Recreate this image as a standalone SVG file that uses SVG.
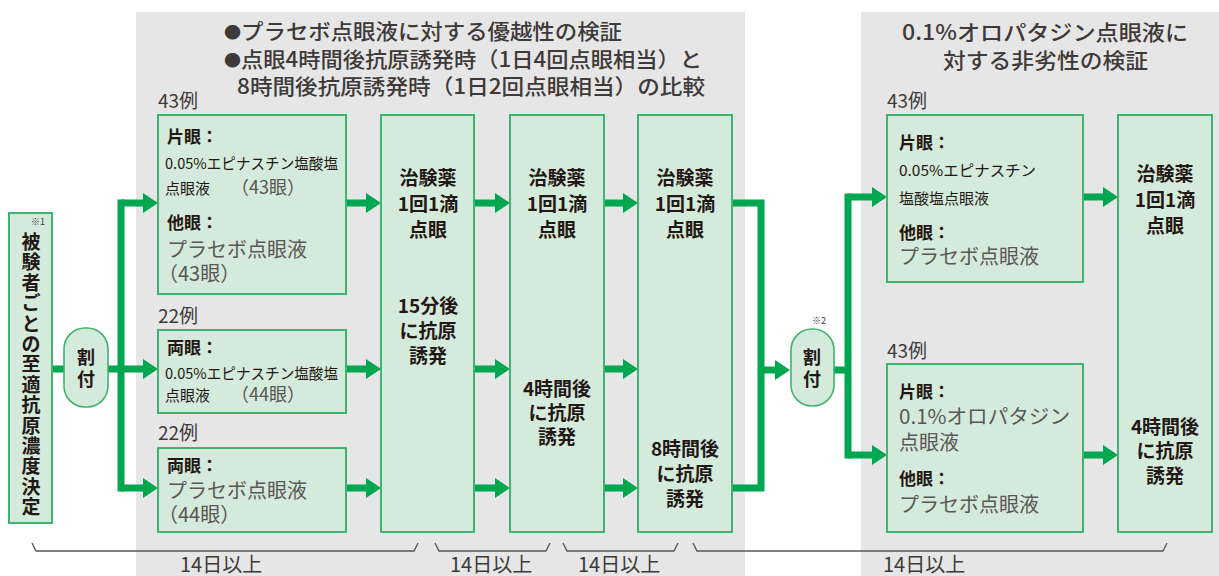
<svg xmlns="http://www.w3.org/2000/svg" width="1219" height="576" viewBox="0 0 1219 576">
<defs>
<style>
text{font-family:"Noto Sans CJK JP","Noto Sans",sans-serif;}
.panel{fill:#e6e6e6}
.box{fill:#d4eada;stroke:#3fb370;stroke-width:2}
.pill{fill:#d4eada;stroke:#3fb370;stroke-width:1.6}
.conn{stroke:#00a650;stroke-width:7;fill:none;stroke-linejoin:miter}
.inner{stroke:#00a650;stroke-width:5;fill:none}
.brace{stroke:#555;stroke-width:1.3;fill:none}
.hd{font-size:21px;fill:#3e3a39;font-weight:500}
.dot{font-size:16px}
.lb{font-size:19px;fill:#3e3a39}
.b{font-size:17px;font-weight:bold;fill:#231815}
.s{font-size:15px;fill:#231815}
.g{font-size:20px;fill:#595757}
.g18{font-size:18px;fill:#595757}
.c{font-size:19px;font-weight:bold;fill:#231815;text-anchor:middle}
.v{font-size:19px;font-weight:bold;fill:#231815;text-anchor:middle}
.note{font-size:9px;fill:#3e3a39}
</style>
<marker id="ah" markerUnits="userSpaceOnUse" markerWidth="15" markerHeight="20" refX="0" refY="10" orient="auto" viewBox="0 0 15 20">
<path d="M0,0 L15,10 L0,20 z" fill="#00a650"/>
</marker>
<marker id="ah2" markerUnits="userSpaceOnUse" markerWidth="14" markerHeight="20" refX="0" refY="10" orient="auto" viewBox="0 0 14 20">
<path d="M0,0 L14,10 L0,20 z" fill="#00a650"/>
</marker>
</defs>

<g id="panels">
<rect class="panel" x="136" y="12" width="609" height="564"/>
<rect class="panel" x="861" y="12" width="358" height="564"/>
</g>

<g id="headers">
<text class="hd" x="224" y="39" textLength="398" lengthAdjust="spacingAndGlyphs"><tspan class="dot" dy="-1">●</tspan><tspan dy="1">プラセボ点眼液に対する優越性の検証</tspan></text>
<text class="hd" x="224" y="67" textLength="478" lengthAdjust="spacingAndGlyphs"><tspan class="dot" dy="-1">●</tspan><tspan dy="1">点眼4時間後抗原誘発時（1日4回点眼相当）と</tspan></text>
<text class="hd" x="237" y="94" textLength="468" lengthAdjust="spacingAndGlyphs">8時間後抗原誘発時（1日2回点眼相当）の比較</text>
<text class="hd" x="902" y="40" textLength="286" lengthAdjust="spacingAndGlyphs">0.1%オロパタジン点眼液に</text>
<text class="hd" x="943" y="68" textLength="205" lengthAdjust="spacingAndGlyphs">対する非劣性の検証</text>
</g>

<g id="connectors">
<path class="conn" d="M52,369 H64"/>
<path class="conn" d="M108,369 H143" marker-end="url(#ah)"/>
<path class="conn" d="M121,203 V488" stroke-linecap="square"/>
<path class="conn" d="M121,203 H143" marker-end="url(#ah)"/>
<path class="conn" d="M121,488 H143" marker-end="url(#ah)"/>
<path class="conn" d="M346,203 H366" marker-end="url(#ah)"/>
<path class="conn" d="M346,369 H366" marker-end="url(#ah)"/>
<path class="conn" d="M346,488 H366" marker-end="url(#ah)"/>
<path class="conn" d="M474,203 H495" marker-end="url(#ah)"/>
<path class="conn" d="M474,369 H495" marker-end="url(#ah)"/>
<path class="conn" d="M474,488 H495" marker-end="url(#ah)"/>
<path class="conn" d="M604,203 H623" marker-end="url(#ah)"/>
<path class="conn" d="M604,369 H623" marker-end="url(#ah)"/>
<path class="conn" d="M604,488 H623" marker-end="url(#ah)"/>
<path class="conn" d="M732,203 H761 V488 H732"/>
<path class="conn" d="M761,370 H775" marker-end="url(#ah)"/>
<path class="conn" d="M834,370 H848"/>
<path class="conn" d="M848,197 V455" stroke-linecap="square"/>
<path class="conn" d="M848,197 H872" marker-end="url(#ah)"/>
<path class="conn" d="M848,455 H872" marker-end="url(#ah)"/>
<path class="conn" d="M1083,197 H1103" marker-end="url(#ah)"/>
<path class="conn" d="M1083,455 H1103" marker-end="url(#ah)"/>
<path class="inner" d="M428,247 V268" marker-end="url(#ah2)"/>
<path class="inner" d="M557,247 V348" marker-end="url(#ah2)"/>
<path class="inner" d="M685,247 V411" marker-end="url(#ah2)"/>
<path class="inner" d="M1165,267 V351" marker-end="url(#ah2)"/>
</g>

<g id="node-subject">
<rect class="box" x="9" y="213" width="43" height="310"/>
<text class="note" x="31" y="225">※1</text>
<text class="v" x="31 31 31 31 31 31 31 31 31 31 31 31 31 31" y="249 269.4 289.8 310.2 330.6 351 371.4 391.8 412.2 432.6 453 473.4 493.8 514.2">被験者ごとの至適抗原濃度決定</text>
</g>

<g id="node-assign1">
<rect class="pill" x="64" y="328" width="44" height="79" rx="21" ry="21"/>
<text class="v" x="86 86" y="364 386" style="font-size:18px">割付</text>
</g>

<g id="node-groupA">
<text class="lb" x="158" y="108">43例</text>
<rect class="box" x="158" y="115" width="188" height="179"/>
<text class="b" x="167" y="143">片眼：</text>
<text class="s" x="165" y="169" textLength="173" lengthAdjust="spacingAndGlyphs">0.05%エピナスチン塩酸塩</text>
<text class="s" x="165" y="194">点眼液</text>
<text class="g18" x="231" y="194">（43眼）</text>
<text class="b" x="167" y="229">他眼：</text>
<text class="g" x="167" y="257">プラセボ点眼液</text>
<text class="g" x="158" y="281">（43眼）</text>
</g>

<g id="node-groupB">
<text class="lb" x="158" y="323">22例</text>
<rect class="box" x="158" y="330" width="188" height="83"/>
<text class="b" x="167" y="354">両眼：</text>
<text class="s" x="165" y="379" textLength="173" lengthAdjust="spacingAndGlyphs">0.05%エピナスチン塩酸塩</text>
<text class="s" x="165" y="401">点眼液</text>
<text class="g18" x="231" y="401">（44眼）</text>
</g>

<g id="node-groupC">
<text class="lb" x="158" y="440">22例</text>
<rect class="box" x="158" y="448" width="188" height="84"/>
<text class="b" x="167" y="472">両眼：</text>
<text class="g" x="167" y="498">プラセボ点眼液</text>
<text class="g" x="158" y="522">（44眼）</text>
</g>

<g id="node-step15min">
<rect class="box" x="381" y="115" width="93" height="417"/>
<text class="c" x="428" y="185">治験薬</text>
<text class="c" x="428" y="211">1回1滴</text>
<text class="c" x="428" y="237">点眼</text>
<text class="c" x="428" y="313">15分後</text>
<text class="c" x="428" y="338">に抗原</text>
<text class="c" x="428" y="363">誘発</text>
</g>

<g id="node-step4h">
<rect class="box" x="510" y="115" width="94" height="417"/>
<text class="c" x="557" y="185">治験薬</text>
<text class="c" x="557" y="211">1回1滴</text>
<text class="c" x="557" y="237">点眼</text>
<text class="c" x="557" y="396">4時間後</text>
<text class="c" x="557" y="420">に抗原</text>
<text class="c" x="557" y="444">誘発</text>
</g>

<g id="node-step8h">
<rect class="box" x="638" y="115" width="94" height="417"/>
<text class="c" x="685" y="185">治験薬</text>
<text class="c" x="685" y="211">1回1滴</text>
<text class="c" x="685" y="237">点眼</text>
<text class="c" x="685" y="456">8時間後</text>
<text class="c" x="685" y="481">に抗原</text>
<text class="c" x="685" y="506">誘発</text>
</g>

<g id="node-assign2">
<text class="note" x="812" y="324">※2</text>
<rect class="pill" x="791" y="329" width="43" height="77" rx="21" ry="21"/>
<text class="v" x="812 812" y="364 386" style="font-size:18px">割付</text>
</g>

<g id="node-groupD">
<text class="lb" x="887" y="108">43例</text>
<rect class="box" x="887" y="115" width="196" height="167"/>
<text class="b" x="899" y="149">片眼：</text>
<text class="s" x="899" y="176" textLength="137" lengthAdjust="spacingAndGlyphs">0.05%エピナスチン</text>
<text class="s" x="899" y="204">塩酸塩点眼液</text>
<text class="b" x="899" y="239">他眼：</text>
<text class="g" x="899" y="264">プラセボ点眼液</text>
</g>

<g id="node-groupE">
<text class="lb" x="887" y="358">43例</text>
<rect class="box" x="887" y="364" width="196" height="168"/>
<text class="b" x="899" y="398">片眼：</text>
<text class="g" x="899" y="424" textLength="171" lengthAdjust="spacingAndGlyphs">0.1%オロパタジン</text>
<text class="g" x="899" y="450">点眼液</text>
<text class="b" x="899" y="485">他眼：</text>
<text class="g" x="899" y="512">プラセボ点眼液</text>
</g>

<g id="node-stepFinal">
<rect class="box" x="1118" y="115" width="94" height="417"/>
<text class="c" x="1165" y="181">治験薬</text>
<text class="c" x="1165" y="207">1回1滴</text>
<text class="c" x="1165" y="233">点眼</text>
<text class="c" x="1165" y="434">4時間後</text>
<text class="c" x="1165" y="458">に抗原</text>
<text class="c" x="1165" y="483">誘発</text>
</g>

<g id="periods">
<path class="brace" d="M32,543 L36,551 H414 L418,543"/>
<path class="brace" d="M435,543 L439,551 H546 L550,543"/>
<path class="brace" d="M563,543 L567,551 H674 L678,543"/>
<path class="brace" d="M693,543 L697,551 H1163 L1167,543"/>
<text class="lb" x="180" y="572" style="font-size:20px">14日以上</text>
<text class="lb" x="450" y="572" style="font-size:20px">14日以上</text>
<text class="lb" x="578" y="572" style="font-size:20px">14日以上</text>
<text class="lb" x="883" y="572" style="font-size:20px">14日以上</text>
</g>
</svg>
